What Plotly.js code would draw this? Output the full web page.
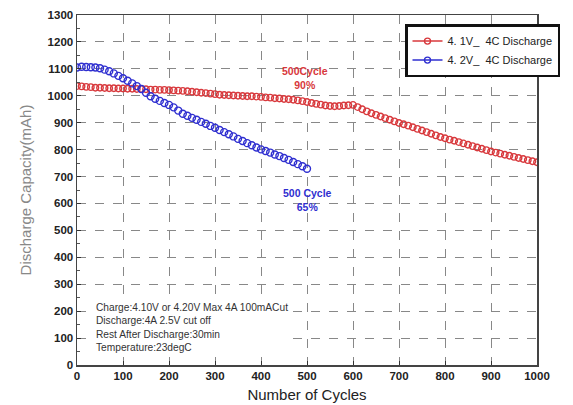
<!DOCTYPE html>
<html>
<head>
<meta charset="utf-8">
<script src="https://cdn.plot.ly/plotly-3.0.1.min.js"></script>
<style>html,body{margin:0;padding:0;background:#fff;}#chart{width:573px;height:405px;}</style>
</head>
<body>
<div id="chart"></div>
<script>
var cyclesRed = [0,10,20,30,40,50,60,70,80,90,100,110,120,130,140,150,160,170,180,190,200,210,220,230,240,250,260,270,280,290,300,310,320,330,340,350,360,370,380,390,400,410,420,430,440,450,460,470,480,490,500,510,520,530,540,550,560,570,580,590,600,610,620,630,640,650,660,670,680,690,700,710,720,730,740,750,760,770,780,790,800,810,820,830,840,850,860,870,880,890,900,910,920,930,940,950,960,970,980,990,1000];
var capRed = [1036,1035,1033,1032,1030,1030,1029,1028,1028,1027,1027,1026,1026,1025,1025,1024,1023,1023,1022,1022,1021,1020,1019,1018,1017,1015,1013,1011,1010,1008,1006,1004,1003,1002,1001,1000,999,998,998,997,996,994,993,991,990,988,987,985,983,980,977,973,970,967,964,962,961,962,964,965,966,958,950,942,935,929,923,917,911,905,899,894,889,883,877,871,865,859,853,847,842,837,833,828,823,818,813,808,803,798,793,789,785,781,777,773,769,765,761,757,753];
var cyclesBlue = [0,10,20,30,40,50,60,70,80,90,100,110,120,130,140,150,160,170,180,190,200,210,220,230,240,250,260,270,280,290,300,310,320,330,340,350,360,370,380,390,400,410,420,430,440,450,460,470,480,490,500];
var capBlue = [1105,1108,1107,1106,1105,1102,1097,1091,1083,1074,1065,1056,1046,1036,1025,1011,998,989,981,973,966,957,945,933,926,918,911,903,896,888,881,873,865,857,849,840,832,824,816,808,801,795,789,782,776,769,762,754,746,738,729];
var seriesNames = ["4. 1V_  4C Discharge", "4. 2V_  4C Discharge"];
var xTicks = [0,100,200,300,400,500,600,700,800,900,1000];
var yTicks = [0,100,200,300,400,500,600,700,800,900,1000,1100,1200,1300];
var noteLines = ["Charge:4.10V or 4.20V Max 4A 100mACut","Discharge:4A 2.5V cut off","Rest After Discharge:30min","Temperature:23degC"];

var RED = '#d8383c', BLUE = '#2f2fd0';
var traces = [
  {x: cyclesRed, y: capRed, mode: 'markers', type: 'scatter', showlegend: false,
   marker: {symbol: 'circle-open', size: 6.5, color: RED, line: {width: 1.4, color: RED}}},
  {x: cyclesBlue, y: capBlue, mode: 'markers', type: 'scatter', showlegend: false,
   marker: {symbol: 'circle-open', size: 7, color: BLUE, line: {width: 1.4, color: BLUE}}},
  {x: [null], y: [null], mode: 'lines+markers', name: seriesNames[0], line: {color: RED, width: 1.5},
   marker: {symbol: 'circle-open', size: 6, color: RED, line: {width: 1.4, color: RED}}},
  {x: [null], y: [null], mode: 'lines+markers', name: seriesNames[1], line: {color: BLUE, width: 1.5},
   marker: {symbol: 'circle-open', size: 6, color: BLUE, line: {width: 1.4, color: BLUE}}}
];
var layout = {
  width: 573, height: 405,
  margin: {l: 77, r: 36, t: 15, b: 40, autoexpand: false},
  paper_bgcolor: '#fff', plot_bgcolor: '#fff',
  font: {family: 'Arial, Liberation Sans, sans-serif', color: '#222'},
  xaxis: {range: [0, 1000], tickvals: xTicks, ticks: 'inside', ticklen: 4, tickcolor: '#333',
    showline: true, linecolor: '#444', linewidth: 1.5, mirror: true,
    showgrid: true, gridcolor: '#888', griddash: 'dash', gridwidth: 1, zeroline: false,
    tickfont: {size: 11.5, weight: 'bold', color: '#222'},
    title: {text: 'Number of Cycles', font: {size: 15, color: '#222'}, standoff: 8}},
  yaxis: {range: [0, 1300], tickvals: yTicks, ticks: 'inside', ticklen: 4, tickcolor: '#333',
    showline: true, linecolor: '#444', linewidth: 1.5, mirror: true,
    showgrid: true, gridcolor: '#888', griddash: 'dash', gridwidth: 1, zeroline: false,
    minor: {dtick: 50, ticks: 'inside', ticklen: 3, tickcolor: '#555', showgrid: false},
    tickfont: {size: 11.5, weight: 'bold', color: '#222'},
    title: {text: 'Discharge Capacity(mAh)', font: {size: 15, color: '#888'}, standoff: 12}},
  legend: {x: 1.05, y: 0.974, xanchor: 'right', yanchor: 'top',
    bgcolor: '#fff', bordercolor: '#111', borderwidth: 2.5, font: {size: 11}, tracegroupgap: 6},
  annotations: [
    {x: 496, y: 1066, xref: 'x', yref: 'y', text: '<b>500Cycle<br>90%</b>', showarrow: false,
     font: {size: 10.5, color: RED}},
    {x: 500, y: 613, xref: 'x', yref: 'y', text: '<b>500 Cycle<br>65%</b>', showarrow: false,
     font: {size: 10.5, color: BLUE}},
    {x: 1005, y: 650, xref: 'x', yref: 'y', text: '<b>1000Cycle<br>70%</b>', showarrow: false,
     font: {size: 10.5, color: RED}},
    {x: 38, y: 240, xref: 'x', yref: 'y', xanchor: 'left', yanchor: 'top', align: 'left',
     text: noteLines.join('<br>'), showarrow: false, bgcolor: '#fff',
     font: {size: 10.2, color: '#333'}}
  ]
};
Plotly.newPlot('chart', traces, layout, {displayModeBar: false, staticPlot: true});
</script>
</body>
</html>
